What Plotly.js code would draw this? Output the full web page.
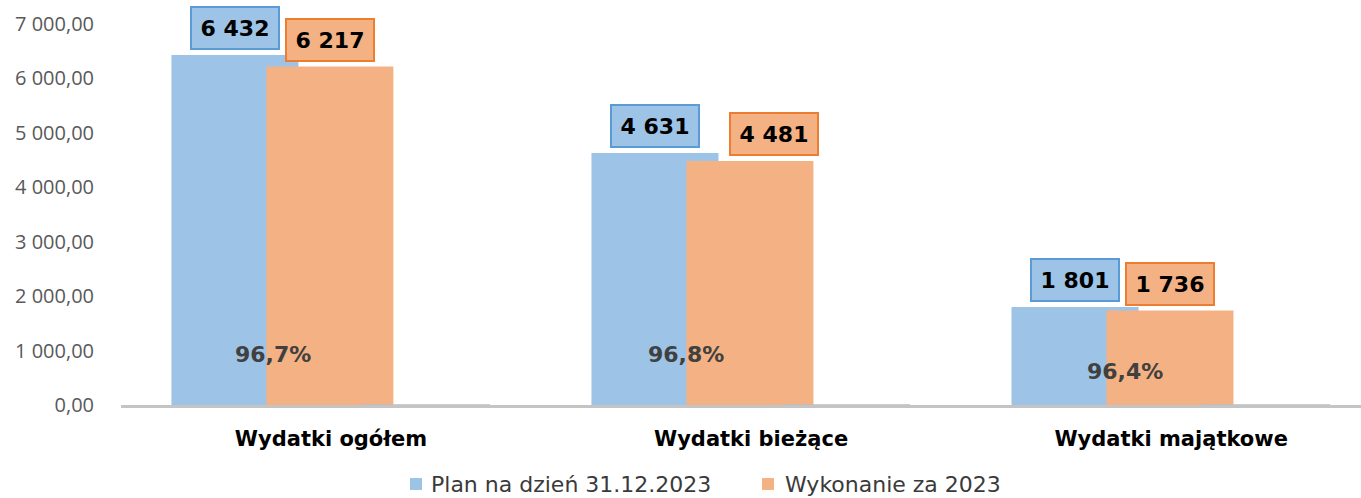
<!DOCTYPE html>
<html>
<head>
<meta charset="utf-8">
<script src="https://cdn.plot.ly/plotly-3.0.1.min.js"></script>
<style>
  html, body { margin: 0; padding: 0; background: #ffffff; }
  #chart { width: 1361px; height: 498px; }
</style>
</head>
<body>
<div id="chart"></div>
<script>
// ---- data ----
const categories = ["Wydatki ogółem", "Wydatki bieżące", "Wydatki majątkowe"];
const seriesNames = ["Plan na dzień 31.12.2023", "Wykonanie za 2023"];
const planValues = [6432, 4631, 1801];
const executionValues = [6217, 4481, 1736];
const percentValues = [96.7, 96.8, 96.4];
const yTickValues = [0, 1000, 2000, 3000, 4000, 5000, 6000, 7000];

// ---- styles / layout constants ----
const BLUE = "#9DC3E6", BLUE_BORDER = "#5B9BD5";
const ORANGE = "#F4B183", ORANGE_BORDER = "#ED7D31";
const BAR_W = 0.3024;
const BLUE_OFF = -0.38, ORANGE_OFF = -0.154, GRAY_OFF = 0.075;
const pctLabelOffsetX = [-0.139, -0.155, -0.111];
const pctLabelPosY = [920, 920, 610];
const orangeLabelShift = [0, 24, 0];

// pixel helpers for the hand-drawn legend (plot area: x 121..1361, y 24..405)
const PL = 121, PW = 1240, PB = 405, PH = 381;
const px = v => (v - PL) / PW;
const py = v => (PB - v) / PH;

const xIdx = categories.map((_, i) => i);
function fmt(v) {
  return String(v).replace(/\B(?=(\d{3})+(?!\d))/g, " ");
}
function fmtPct(v) {
  return v.toFixed(1).replace(".", ",") + "%";
}

const traces = [
  {
    type: "bar", name: seriesNames[0], x: xIdx, y: planValues,
    offset: BLUE_OFF, width: BAR_W,
    marker: { color: BLUE, line: { width: 0 } }, hoverinfo: "skip"
  },
  {
    type: "bar", name: seriesNames[1], x: xIdx, y: executionValues,
    offset: ORANGE_OFF, width: BAR_W,
    marker: { color: ORANGE, line: { width: 0 } }, hoverinfo: "skip"
  },
  {
    type: "bar", name: "%", x: xIdx, y: percentValues.map(p => p / 100),
    offset: GRAY_OFF, width: BAR_W,
    marker: { color: "#BDBDBD", line: { width: 1.2, color: "#BDBDBD" } }, hoverinfo: "skip"
  }
];

const annotations = [];
const labelFont = { family: "DejaVu Sans", size: 22, color: "#000000", weight: "bold" };
xIdx.forEach(i => {
  annotations.push({
    x: i + BLUE_OFF + BAR_W / 2, y: planValues[i], xref: "x", yref: "y",
    text: fmt(planValues[i]), showarrow: false, yanchor: "bottom", yshift: 5,
    font: labelFont, bgcolor: BLUE, bordercolor: BLUE_BORDER, borderwidth: 2,
    borderpad: 2, width: 82, height: 36
  });
  annotations.push({
    x: i + ORANGE_OFF + BAR_W / 2, y: executionValues[i], xref: "x", yref: "y",
    text: fmt(executionValues[i]), showarrow: false, yanchor: "bottom", yshift: 5,
    xshift: orangeLabelShift[i],
    font: labelFont, bgcolor: ORANGE, bordercolor: ORANGE_BORDER, borderwidth: 2,
    borderpad: 2, width: 82, height: 36
  });
  annotations.push({
    x: i + pctLabelOffsetX[i], y: pctLabelPosY[i], xref: "x", yref: "y",
    text: fmtPct(percentValues[i]), showarrow: false,
    font: { family: "DejaVu Sans", size: 22, color: "#404040", weight: "bold" }
  });
});

// custom legend
const legendFont = { family: "DejaVu Sans", size: 22, color: "#3A3A3A" };
const legendItems = [
  { name: seriesNames[0], color: BLUE, sx: 410, tx: 430 },
  { name: seriesNames[1], color: ORANGE, sx: 762, tx: 784 }
];
const LEG_Y = 484;
const shapes = [];
legendItems.forEach(it => {
  shapes.push({
    type: "rect", xref: "paper", yref: "paper",
    x0: px(it.sx), x1: px(it.sx + 12), y0: py(LEG_Y + 6), y1: py(LEG_Y - 6),
    fillcolor: it.color, line: { width: 0 }
  });
  annotations.push({
    x: px(it.tx), y: py(LEG_Y), xref: "paper", yref: "paper",
    xanchor: "left", yanchor: "middle", text: it.name, showarrow: false,
    font: legendFont, borderpad: 0
  });
});

const layout = {
  width: 1361, height: 498,
  margin: { l: PL, r: 0, t: 24, b: 93, pad: 0 },
  paper_bgcolor: "#ffffff", plot_bgcolor: "#ffffff",
  separators: ", ",
  barmode: "overlay",
  showlegend: false,
  xaxis: {
    range: [-0.5, 2.452], tickvals: xIdx, ticktext: categories,
    showgrid: false, zeroline: false, showline: true,
    linecolor: "#C4C4C4", linewidth: 3, ticks: "",
    ticklabelstandoff: 13,
    tickfont: { family: "DejaVu Sans", size: 21, color: "#000000", weight: "bold" },
    fixedrange: true
  },
  yaxis: {
    range: [0, 7000], tickvals: yTickValues, tickformat: ",.2f",
    showgrid: false, zeroline: false, showline: false, ticks: "",
    ticklabelstandoff: 26,
    tickfont: { family: "Open Sans", size: 20, color: "#595959" },
    fixedrange: true
  },
  shapes: shapes,
  annotations: annotations
};

Plotly.newPlot("chart", traces, layout, { displayModeBar: false, staticPlot: true });
</script>
</body>
</html>
